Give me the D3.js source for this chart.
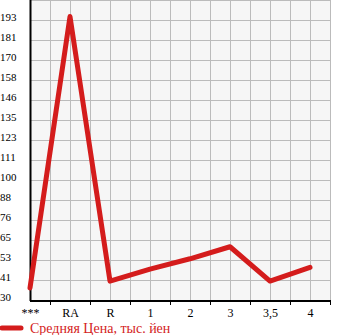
<!DOCTYPE html>
<meta charset="utf-8">
<script src="https://d3js.org/d3.v7.min.js"></script>
<style>
  body { margin: 0; background: #fff; }
</style>
<body>
<script>
  // chart data
  var categories = ["***", "RA", "R", "1", "2", "3", "3,5", "4"];
  var prices = [37, 195, 41, 48, 54, 61, 41, 49];
  var yTickLabels = [30, 41, 53, 65, 76, 88, 100, 111, 123, 135, 146, 158, 170, 181, 193];
  var legendLabel = "Средняя Цена, тыс. йен";

  var w = 345, h = 335;
  var plotLeft = 30, plotRight = 330, plotTop = 0, plotBottom = 300;
  var step = (193 - 30) / 14;

  var svg = d3.select("body").append("svg")
    .attr("width", w)
    .attr("height", h);

  var x = d3.scalePoint()
    .domain(categories)
    .range([plotLeft, plotLeft + 40 * (categories.length - 1)]);

  var y = d3.scaleLinear()
    .domain([30, 30 + 15 * step])
    .range([plotBottom, plotTop]);

  // plot background
  svg.append("rect")
    .attr("x", plotLeft).attr("y", plotTop)
    .attr("width", plotRight - plotLeft).attr("height", plotBottom - plotTop)
    .attr("fill", "#f6f6f6");

  // vertical grid, every half category
  var vGrid = d3.range(plotLeft + 20, plotRight + 1, 20);
  svg.selectAll(".vgrid")
    .data(vGrid)
    .enter().append("line")
    .attr("x1", function (d) { return d + 0.5; })
    .attr("x2", function (d) { return d + 0.5; })
    .attr("y1", plotTop).attr("y2", plotBottom)
    .attr("stroke", "#bbbbbb").attr("stroke-width", 1);

  // horizontal grid
  var hGrid = d3.range(0, 16).map(function (i) { return 30 + i * step; });
  svg.selectAll(".hgrid")
    .data(hGrid)
    .enter().append("line")
    .attr("x1", plotLeft).attr("x2", plotRight + 1)
    .attr("y1", function (d) { return Math.round(y(d)) + 0.5; })
    .attr("y2", function (d) { return Math.round(y(d)) + 0.5; })
    .attr("stroke", "#bbbbbb").attr("stroke-width", 1);

  // y labels
  svg.selectAll(".ylab")
    .data(yTickLabels)
    .enter().append("text")
    .attr("x", 0)
    .attr("y", function (d, i) { return y(30 + i * step) + 1; })
    .text(function (d) { return d; })
    .attr("font-family", "Liberation Serif, serif")
    .attr("font-size", "11px")
    .attr("fill", "#000");

  // y axis line
  svg.append("line")
    .attr("x1", plotLeft + 0.5).attr("x2", plotLeft + 0.5)
    .attr("y1", plotTop).attr("y2", plotBottom + 1)
    .attr("stroke", "#000").attr("stroke-width", 2);

  var xAxis = d3.axisBottom(x).tickSize(0).tickPadding(8);
  var gx = svg.append("g")
    .attr("transform", "translate(0," + plotBottom + ")")
    .call(xAxis);
  gx.select(".domain").remove();
  gx.selectAll("text")
    .attr("font-family", "Liberation Serif, serif")
    .attr("font-size", "12px")
    .attr("fill", "#000");

  svg.append("line")
    .attr("x1", plotLeft).attr("x2", plotRight + 1)
    .attr("y1", plotBottom + 1).attr("y2", plotBottom + 1)
    .attr("stroke", "#000").attr("stroke-width", 2);

  // small ticks between categories
  svg.selectAll(".xtick")
    .data(d3.range(plotLeft + 20, plotRight + 1, 40))
    .enter().append("line")
    .attr("x1", function (d) { return d + 0.5; })
    .attr("x2", function (d) { return d + 0.5; })
    .attr("y1", plotBottom + 1).attr("y2", plotBottom + 5)
    .attr("stroke", "#000").attr("stroke-width", 1);

  // price line
  var line = d3.line()
    .x(function (d, i) { return x(categories[i]); })
    .y(function (d) { return y(d); });

  svg.append("path")
    .datum(prices)
    .attr("d", line)
    .attr("fill", "none")
    .attr("stroke", "#d41c1c")
    .attr("stroke-width", 5)
    .attr("stroke-linejoin", "round")
    .attr("stroke-linecap", "round");

  // legend
  svg.append("line")
    .attr("x1", 2).attr("x2", 21)
    .attr("y1", 328).attr("y2", 328)
    .attr("stroke", "#d41c1c")
    .attr("stroke-width", 5)
    .attr("stroke-linecap", "round");

  svg.append("text")
    .attr("x", 30).attr("y", 333)
    .text(legendLabel)
    .attr("font-family", "Liberation Serif, serif")
    .attr("font-size", "14px")
    .attr("fill", "#d41c1c");
</script>
</body>
